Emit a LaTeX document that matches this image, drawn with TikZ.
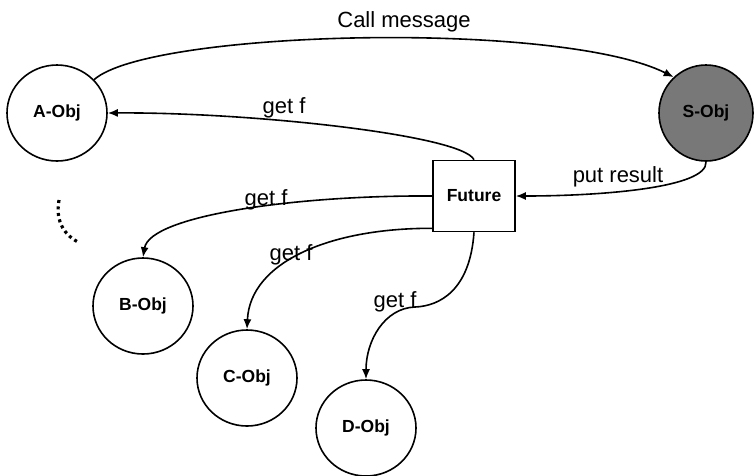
\documentclass[tikz,border=0pt]{standalone}
\usepackage{fontspec}
\setmainfont{Liberation Sans}
\usetikzlibrary{shapes.geometric,arrows.meta}
\begin{document}
\begin{tikzpicture}[x=1pt,y=-1pt,
  obj/.style={draw,line width=1.6pt,ellipse,inner sep=0pt,minimum width=100pt,minimum height=96pt,font=\fontsize{17.5}{20}\selectfont\bfseries},
  fut/.style={draw,line width=1.6pt,rectangle,inner sep=0pt,minimum width=82pt,minimum height=71pt,font=\fontsize{17.5}{20}\selectfont\bfseries},
  conn/.style={line width=1.6pt,-{Latex[length=10pt,width=8pt]}},
  lbl/.style={anchor=base,inner sep=0pt,font=\fontsize{22}{25}\selectfont}]
\useasboundingbox (0,0) rectangle (754,475);
\node[obj] (A) at (57,113) {A-Obj};
\node[obj,fill={rgb,255:red,120;green,120;blue,120},minimum width=94pt] (S) at (706,113) {S-Obj};
\node[fut] (F) at (474,196) {Future};
\node[obj] (B) at (143,306) {B-Obj};
\node[obj] (C) at (247,378) {C-Obj};
\node[obj] (D) at (366,428) {D-Obj};
\coordinate (mid) at (415,307);
% call message
\draw[conn] (A.42) .. controls (150,30) and (560,20) .. (S.132);
\node[lbl] (lcall) at (404,27) {Call message};
% get f to A
\draw[conn] (F.north) .. controls (462,135) and (250,112) .. (A.east);
\node[lbl] (la) at (284,113) {get f};
% put result
\draw[conn] (S.south) .. controls (708,188) and (600,196) .. (F.east);
\node[lbl] (lput) at (618,182) {put result};
% B
\draw[conn] (F.west) .. controls (300,195) and (150,215) .. (B.north);
\node[lbl] (lb) at (266,205) {get f};
% C
\draw[conn] ([yshift=4pt]F.south west) .. controls (330,228) and (250,262) .. (C.north);
\node[lbl] (lc) at (291,260) {get f};
% D
\draw[line width=1.6pt] (F.south) .. controls (470,290) and (440,306) .. (mid);
\draw[conn] (mid) .. controls (385,308) and (366,340) .. (D.north);
\node[lbl] (ld) at (395,307) {get f};
% dotted arc
\draw[line width=3.2pt,dash pattern=on 3pt off 3.5pt] (59,200) .. controls (55,222) and (65,236) .. (80,243);
\end{tikzpicture}
\end{document}
